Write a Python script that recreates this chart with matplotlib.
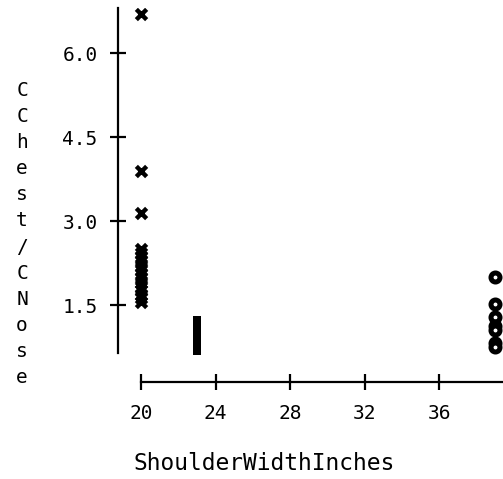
import matplotlib
matplotlib.use("Agg")
import matplotlib.pyplot as plt

# Shoulder width groups and their chest/nose ratios
group_a_x = 20
group_a_y = [6.7, 3.9, 3.15, 2.5, 2.42, 2.35, 2.28, 2.2, 2.12, 2.05, 1.98,
             1.9, 1.83, 1.76, 1.68, 1.62, 1.55]
group_b_x = 23
group_b_y = [1.24, 1.19, 1.14, 1.09, 1.04, 0.99, 0.94, 0.89, 0.84, 0.79,
             0.74, 0.7, 0.67]
group_c_x = 39
group_c_y = [2.0, 1.52, 1.28, 1.12, 1.05, 0.82, 0.75]

xticks = [20, 24, 28, 32, 36]
yticks = [1.5, 3.0, 4.5, 6.0]
ytick_labels = ["1.5", "3.0", "4.5", "6.0"]

W, H = 503, 479
fig = plt.figure(figsize=(W / 100, H / 100), dpi=100)
font = "DejaVu Sans Mono"

left_px, right_px, top_px, bottom_px = 118, 503, 8, 382
ax = fig.add_axes([left_px / W, 1 - bottom_px / H,
                   (right_px - left_px) / W, (bottom_px - top_px) / H])
ax.set_xlim(18.765, 39.436)
ax.set_ylim(0.125, 6.804)

ax.scatter([group_a_x] * len(group_a_y), group_a_y, marker="x", s=55,
           linewidths=3.2, color="black", zorder=3)
ax.scatter([group_b_x] * len(group_b_y), group_b_y, marker="s", s=30,
           linewidths=0, color="black", zorder=3)
ax.scatter([group_c_x] * len(group_c_y), group_c_y, marker="o", s=42,
           facecolors="white", edgecolors="black", linewidths=3.6, zorder=3)

for side in ("top", "right"):
    ax.spines[side].set_visible(False)
ax.spines["left"].set_bounds(0.64, 6.804)
ax.spines["bottom"].set_bounds(20, 39.436)
for side in ("left", "bottom"):
    ax.spines[side].set_linewidth(1.6)
    ax.spines[side].set_color("black")

ax.set_xticks(xticks)
ax.set_xticklabels([str(v) for v in xticks])
ax.set_yticks(yticks)
ax.set_yticklabels(ytick_labels)
ax.tick_params(direction="inout", length=11.5, width=1.6, color="black",
               labelsize=14, pad=9)
ax.tick_params(axis="x", pad=10)
for lbl in ax.get_xticklabels() + ax.get_yticklabels():
    lbl.set_fontfamily(font)

fig.text(264 / W, 1 - 463 / H, "ShoulderWidthInches", family=font,
         fontsize=16.5, ha="center", va="center")
fig.text(22 / W, 1 - 234 / H, "\n".join("CChest/CNose"), family=font,
         fontsize=14, ha="center", va="center", multialignment="center",
         linespacing=1.475)

fig.savefig("out.png", dpi=100)
